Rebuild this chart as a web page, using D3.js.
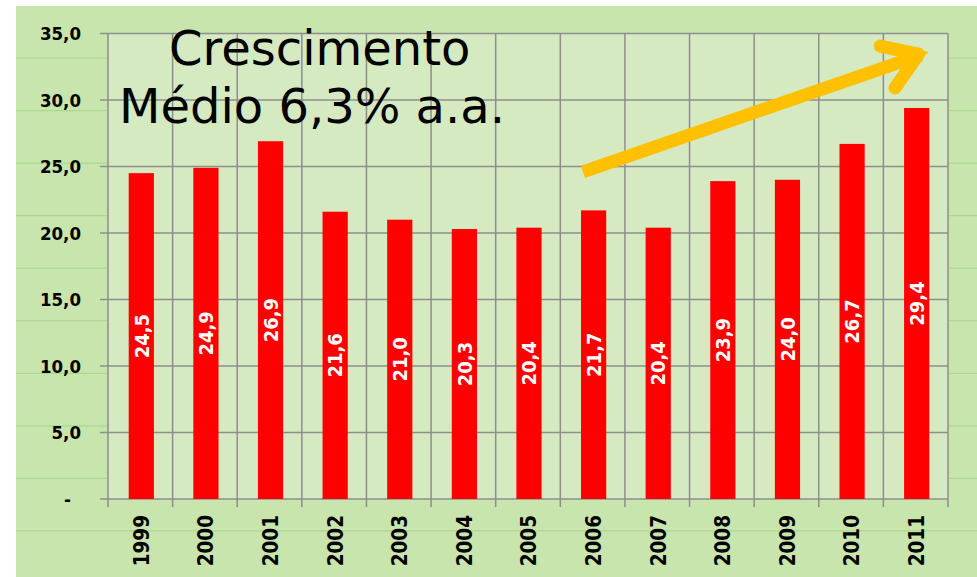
<!DOCTYPE html>
<html>
<head>
<meta charset="utf-8">
<script src="https://cdn.jsdelivr.net/npm/d3@7"></script>
<style>
  body { margin: 0; background: #fff; }
  svg { display: block; }
</style>
</head>
<body>
<div id="chart"></div>
<script>
// Chart data
const years = ["1999", "2000", "2001", "2002", "2003", "2004", "2005", "2006", "2007", "2008", "2009", "2010", "2011"];
const values = [24.5, 24.9, 26.9, 21.6, 21.0, 20.3, 20.4, 21.7, 20.4, 23.9, 24.0, 26.7, 29.4];
const yTicks = [0, 5, 10, 15, 20, 25, 30, 35];
const titleLines = ["Crescimento", "Médio 6,3% a.a."];

const W = 977, H = 577;
const margin = { top: 33.5, right: 29, bottom: 78, left: 108 },
    width = W - margin.left - margin.right,
    height = H - margin.top - margin.bottom;

const labelFont = "'DejaVu Sans Condensed', 'DejaVu Sans', Verdana, sans-serif";

const svg = d3.select("#chart").append("svg")
    .attr("width", W)
    .attr("height", H);

// Outer green background
svg.append("rect")
    .attr("x", 16).attr("y", 6)
    .attr("width", W - 16).attr("height", H - 6)
    .attr("fill", "#c9e5ae");

// decorative background lines
d3.range(10).forEach(i => {
    svg.append("line")
        .attr("x1", 16).attr("x2", W)
        .attr("y1", 58 + i * 52.55).attr("y2", 58 + i * 52.55)
        .attr("stroke", "#a9d98b").attr("stroke-width", 1.2);
});

const g = svg.append("g")
    .attr("transform", `translate(${margin.left}, ${margin.top})`);

// Scales
const x = d3.scaleBand().domain(years).range([0, width]).paddingInner(0).paddingOuter(0);
const y = d3.scaleLinear().domain([0, 35]).range([height, 0]);

// Plot area
g.append("rect")
    .attr("width", width).attr("height", height)
    .attr("fill", "#d5eac0");

// Horizontal grid lines
g.selectAll(".hgrid")
    .data(yTicks)
    .enter().append("line")
    .attr("x1", -8).attr("x2", width)
    .attr("y1", d => y(d)).attr("y2", d => y(d))
    .attr("stroke", "#8e8e8e").attr("stroke-width", 1.5);

// Vertical grid lines at category boundaries
const bounds = years.map(d => x(d)).concat([width]);
g.selectAll(".vgrid")
    .data(bounds)
    .enter().append("line")
    .attr("x1", d => d).attr("x2", d => d)
    .attr("y1", 0).attr("y2", height + 8)
    .attr("stroke", "#8e8e8e").attr("stroke-width", 1.5);

// Bars
const barW = x.bandwidth() * 0.39;
g.selectAll(".bar")
    .data(values)
    .enter().append("rect")
    .attr("x", (d, i) => x(years[i]) + x.bandwidth() / 2 - barW / 2 + 1)
    .attr("y", d => y(d))
    .attr("width", barW)
    .attr("height", d => height - y(d))
    .attr("fill", "#ff0000");

// Data labels
g.selectAll(".lbl")
    .data(values)
    .enter().append("text")
    .attr("transform", (d, i) => `translate(${x(years[i]) + x.bandwidth() / 2 + 1}, ${(y(d) + height) / 2}) rotate(-90)`)
    .attr("text-anchor", "middle")
    .attr("dy", "0.36em")
    .attr("fill", "#fff")
    .style("font-family", labelFont)
    .style("font-weight", "bold")
    .style("font-size", "20px")
    .text(d => d.toFixed(1).replace(".", ","));

// Y tick labels
g.selectAll(".ytick")
    .data(yTicks)
    .enter().append("text")
    .attr("x", d => d === 0 ? -37 : -27)
    .attr("y", d => y(d))
    .attr("dy", "0.36em")
    .attr("text-anchor", "end")
    .style("font-family", labelFont)
    .style("font-weight", "bold")
    .style("font-size", "18.5px")
    .text(d => d === 0 ? "-" : d.toFixed(1).replace(".", ","));

// X tick labels
g.selectAll(".xtick")
    .data(years)
    .enter().append("text")
    .attr("transform", d => `translate(${x(d) + x.bandwidth() / 2 + 1}, ${height + 16}) rotate(-90)`)
    .attr("text-anchor", "end")
    .attr("dy", "0.36em")
    .style("font-family", labelFont)
    .style("font-weight", "bold")
    .style("font-size", "20.5px")
    .text(d => d);

// Title annotation
svg.selectAll(".title")
    .data(titleLines)
    .enter().append("text")
    .attr("x", (d, i) => i === 0 ? 169 : 119)
    .attr("y", (d, i) => 65 + i * 58)
    .style("font-family", "DejaVu Sans, Verdana, sans-serif")
    .style("font-size", "48px")
    .attr("fill", "#000")
    .text(d => d);

// Growth arrow (in band-index / value units)
const xi = d3.scaleLinear().domain([0, years.length]).range([0, width]);
const arrowStart = [xi(7.35), y(24.6)], arrowEnd = [xi(12.7), y(33.6)];
const arm1 = [xi(11.95), y(34.05)], arm2 = [xi(12.18), y(30.9)];
const arrow = g.append("g")
    .attr("stroke", "#ffc000").attr("stroke-width", 13)
    .attr("stroke-linecap", "round").attr("stroke-linejoin", "round")
    .attr("fill", "none");
arrow.append("line")
    .attr("x1", arrowStart[0]).attr("y1", arrowStart[1])
    .attr("x2", arrowEnd[0] - 8).attr("y2", arrowEnd[1] + 3)
    .attr("stroke-linecap", "butt");
arrow.append("path")
    .attr("d", d3.line()([arm1, [arrowEnd[0] - 10, arrowEnd[1] + 2], arm2]));
g.append("path")
    .attr("d", d3.line()([[arrowEnd[0] - 20, arrowEnd[1] - 5], arrowEnd, [arrowEnd[0] - 16, arrowEnd[1] + 14]]) + "Z")
    .attr("fill", "#ffc000");
</script>
</body>
</html>
